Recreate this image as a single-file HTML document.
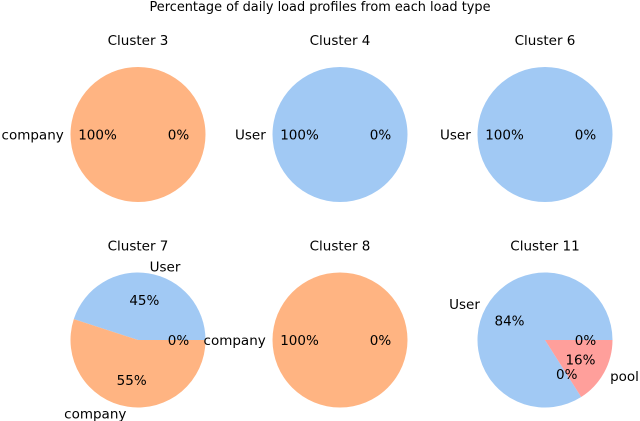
<!DOCTYPE html>
<html><head><meta charset="utf-8"><style>
html,body{margin:0;padding:0;background:#fff;}
svg{display:block;font-family:"DejaVu Sans","Liberation Sans",sans-serif;}
</style></head><body>
<svg id="chart" width="640" height="421" viewBox="0 0 640 421" xmlns="http://www.w3.org/2000/svg">
<text x="320" y="11" text-anchor="middle" font-size="12.9" fill="#000">Percentage of daily load profiles from each load type</text>
</svg>
<script>
const clusterNames = ["Cluster 3","Cluster 4","Cluster 6","Cluster 7","Cluster 8","Cluster 11"];
const sliceLabels = [["company",""],["User",""],["User",""],["User","company",""],["company",""],["User","","pool",""]];
const sliceValues = [[100,0],[100,0],[100,0],[45,55,0],[100,0],[84,0,16,0]];
const sliceTypes = [["company","x"],["User","x"],["User","x"],["User","company","x"],["company","x"],["User","x","pool","x"]];
const typeColors = {User:"#a1c9f4",company:"#ffb482",pool:"#ff9f9b",x:"#cccccc"};

const svg = document.getElementById('chart');
const NS = "http://www.w3.org/2000/svg";
const colX = [138,340,545], rowY = [134.5,340], R = 67.5;
function mk(tag, attrs){const e=document.createElementNS(NS,tag);for(const k in attrs)e.setAttribute(k,attrs[k]);return e;}
function pt(cx,cy,r,deg){const a=deg*Math.PI/180;return [cx+r*Math.cos(a), cy-r*Math.sin(a)];}

clusterNames.forEach((name,i)=>{
  const cx = colX[i%3], cy = rowY[Math.floor(i/3)];
  const g = mk('g',{});
  
  
  svg.appendChild(g);
  const t = mk('text',{x:cx,y:cy-89.5,'text-anchor':'middle','font-size':13.5});
  
  
  t.textContent = name; g.appendChild(t);
  const vals = sliceValues[i]; const total = vals.reduce((a,b)=>a+b,0);
  const texts = [];
  let ang = 0;
  vals.forEach((v,j)=>{
    const sweep = v/total*360, a0=ang, a1=ang+sweep, mid=ang+sweep/2;
    if (sweep>0){
      let el;
      if (sweep>=359.999){ el = mk('circle',{cx:cx,cy:cy,r:R,fill:typeColors[sliceTypes[i][j]]}); }
      else {
        const p0=pt(cx,cy,R,a0), p1=pt(cx,cy,R,a1);
        el = mk('path',{d:`M${cx},${cy} L${p0[0]},${p0[1]} A${R},${R} 0 ${sweep>180?1:0} 0 ${p1[0]},${p1[1]} Z`,fill:typeColors[sliceTypes[i][j]]});
      }
      
      
      g.appendChild(el);
    }
    const pp = pt(cx,cy,R*0.6,mid);
    const pc = mk('text',{x:pp[0],y:pp[1]+5,'text-anchor':'middle','font-size':13.5});
    
    
    pc.textContent = Math.round(v/total*100)+'%'; texts.push(pc);
    if (sliceLabels[i][j]){
      const lp = pt(cx,cy,R*1.1,mid);
      const c = Math.cos(mid*Math.PI/180);
      const lt = mk('text',{x:lp[0],y:lp[1]+5,'text-anchor':c>=0?'start':'end','font-size':13.5});
      
      
      lt.textContent = sliceLabels[i][j]; texts.push(lt);
    }
    ang = a1;
  });
  texts.forEach(e=>g.appendChild(e));
});
</script>
</body></html>
